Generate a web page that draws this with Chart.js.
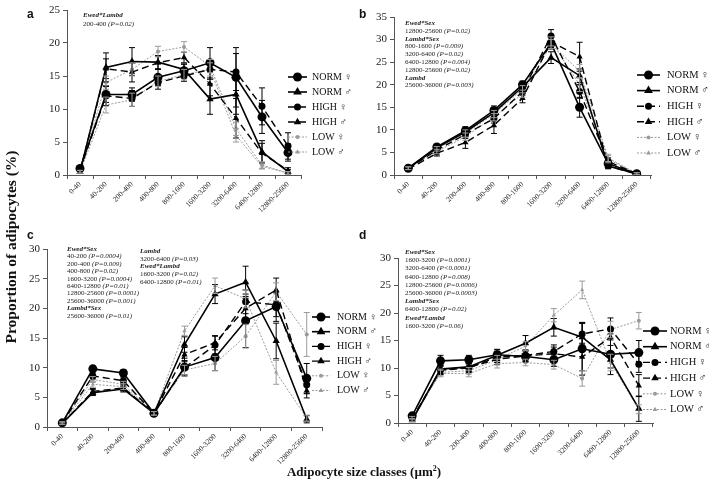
<!DOCTYPE html>
<html>
<head>
<meta charset="utf-8">
<script src="https://cdn.jsdelivr.net/npm/chart.js@4.4.0/dist/chart.umd.min.js"></script>
<style>
  body { margin: 0; background: #fff; width: 709px; height: 486px; overflow: hidden; position: relative; font-family: "Liberation Serif", serif; color: #111; }
  canvas { position: absolute; left: 0; top: 0; }
  .note { position: absolute; font-size: 7px; line-height: 7.8px; color: #222; white-space: nowrap; }
  .note b { font-style: italic; }
  .lbl { position: absolute; font-family: "Liberation Sans", Arial, sans-serif; font-weight: bold; font-size: 12px; }
  #ytitle { position: absolute; left: -99px; top: 237px; width: 220px; height: 20px; line-height: 20px; text-align: center; font-weight: bold; font-size: 15.5px; transform: rotate(-90deg); }
  #xtitle { position: absolute; left: 214px; top: 464px; width: 300px; text-align: center; font-weight: bold; font-size: 13px; }
</style>
</head>
<body>
<canvas id="pa" width="709" height="486"></canvas>
<canvas id="pb" width="709" height="486"></canvas>
<canvas id="pc" width="709" height="486"></canvas>
<canvas id="pd" width="709" height="486"></canvas>
<div class="lbl" style="left:27px;top:7px">a</div>
<div class="lbl" style="left:359px;top:7px">b</div>
<div class="lbl" style="left:27px;top:228px">c</div>
<div class="lbl" style="left:359px;top:228px">d</div>
<div id="ytitle">Proportion of adipocytes (%)</div>
<div id="xtitle">Adipocyte size classes (µm<sup style="font-size:8px">2</sup>)</div>
<script>
// size classes on the x axis
const sizeClasses = ['0-40', '40-200', '200-400', '400-800', '800-1600', '1600-3200', '3200-6400', '6400-12800', '12800-25600'];
const seriesNames = ['NORM ♀', 'NORM ♂', 'HIGH ♀', 'HIGH ♂', 'LOW ♀', 'LOW ♂'];

// panel a
const aNormF = [1.0, 12.2, 12.2, 14.8, 15.8, 17.0, 14.8, 8.8, 3.4];
const aNormM = [0.5, 16.3, 17.2, 17.1, 16.0, 11.5, 12.2, 3.5, 0.5];
const aHighF = [0.8, 12.0, 11.6, 14.0, 15.0, 16.0, 15.6, 10.4, 4.4];
const aHighM = [0.5, 16.1, 15.6, 17.0, 17.8, 13.8, 8.6, 3.3, 0.7];
const aLowF = [0.5, 14.0, 16.0, 18.7, 19.4, 16.5, 7.0, 1.5, 0.3];
const aLowM = [0.5, 10.6, 11.4, 14.2, 15.2, 16.0, 6.0, 1.3, 0.3];
const aNormFErr = [0.3, 1.2, 1.0, 1.2, 1.0, 2.3, 4.5, 2.5, 1.3];
const aNormMErr = [0.2, 2.2, 2.1, 1.0, 0.8, 2.3, 3.0, 1.7, 0.3];
const aHighFErr = [0.3, 1.5, 1.2, 1.0, 0.8, 1.5, 2.8, 2.8, 2.0];
const aHighMErr = [0.2, 1.5, 1.5, 1.0, 0.8, 1.8, 3.0, 1.5, 0.4];
const aLowFErr = [0.2, 1.0, 1.0, 0.8, 0.8, 1.0, 1.0, 0.5, 0.2];
const aLowMErr = [0.2, 1.2, 1.0, 0.8, 0.8, 1.0, 1.0, 0.4, 0.2];
const aNotes = ['Ewed*Lambd', '200-400 (P=0.02)'];

// panel b
const bNormF = [1.5, 6.2, 9.8, 14.3, 20.0, 29.2, 15.0, 2.5, 0.3];
const bNormM = [1.5, 6.0, 9.5, 13.8, 19.5, 26.0, 22.0, 2.0, 0.3];
const bHighF = [1.5, 5.5, 9.0, 12.5, 18.5, 30.8, 18.5, 3.0, 0.3];
const bHighM = [1.3, 4.8, 7.2, 11.0, 17.0, 29.5, 26.2, 2.0, 0.2];
const bLowF = [1.5, 5.8, 9.2, 13.5, 19.0, 29.6, 20.0, 3.5, 0.3];
const bLowM = [1.5, 5.2, 8.5, 12.8, 18.0, 29.0, 23.0, 3.8, 0.3];
const bNormFErr = [0.3, 0.6, 0.9, 1.0, 0.8, 1.3, 2.2, 0.8, 0.2];
const bNormMErr = [0.3, 0.6, 0.9, 1.0, 0.8, 1.3, 1.5, 0.6, 0.2];
const bHighFErr = [0.3, 0.6, 0.9, 1.0, 0.8, 1.4, 1.5, 0.8, 0.2];
const bHighMErr = [0.3, 0.6, 1.3, 1.8, 1.0, 1.3, 3.2, 0.6, 0.2];
const bLowFErr = [0.3, 0.5, 0.8, 0.8, 0.8, 1.0, 1.5, 0.8, 0.2];
const bLowMErr = [0.3, 0.5, 0.8, 0.8, 0.8, 1.0, 1.5, 0.8, 0.2];
const bNotes = ['Ewed*Sex', '12800-25600 (P=0.02)', 'Lambd*Sex', '800-1600 (P=0.009)', '3200-6400 (P=0.02)',
  '6400-12800 (P=0.004)', '12800-25600 (P=0.02)', 'Lambd', '25600-36000 (P=0.003)'];

// panel c
const cNormF = [0.7, 9.8, 9.1, 2.3, 10.1, 11.7, 17.9, 20.3, 8.2];
const cNormM = [0.6, 5.8, 6.4, 2.3, 13.9, 22.4, 24.4, 14.5, 1.3];
const cHighF = [0.7, 8.6, 7.8, 2.3, 10.0, 13.8, 21.1, 20.6, 7.1];
const cHighM = [0.6, 6.0, 6.6, 2.3, 12.2, 14.2, 20.0, 23.1, 6.1];
const cLowF = [0.7, 8.0, 7.2, 2.3, 9.6, 10.7, 15.3, 22.8, 15.6];
const cLowM = [0.6, 7.2, 6.8, 2.3, 16.2, 23.8, 21.6, 9.2, 1.5];
const cNormFErr = [0.2, 0.5, 0.5, 0.3, 1.5, 2.2, 4.5, 2.5, 2.5];
const cNormMErr = [0.2, 0.5, 0.5, 0.3, 1.3, 1.6, 2.7, 3.0, 0.6];
const cHighFErr = [0.2, 0.5, 0.5, 0.3, 1.2, 1.5, 2.0, 2.0, 1.5];
const cHighMErr = [0.2, 0.5, 0.5, 0.3, 1.2, 1.2, 2.0, 2.0, 1.2];
const cLowFErr = [0.2, 0.5, 0.5, 0.3, 0.8, 1.2, 2.0, 1.5, 3.7];
const cLowMErr = [0.2, 0.5, 0.5, 0.3, 0.8, 1.3, 1.5, 2.0, 0.5];
const cNotes = ['Ewed*Sex', '40-200 (P=0.0004)', '200-400 (P=0.009)', '400-800 (P=0.02)', '1600-3200 (P=0.0004)',
  '6400-12800 (P=0.01)', '12800-25600 (P=0.0001)', '25600-36000 (P=0.001)', 'Lambd*Sex', '25600-36000 (P=0.01)'];
const cNotes2 = ['Lambd', '3200-6400 (P=0.03)', 'Ewed*Lambd', '1600-3200 (P=0.02)', '6400-12800 (P=0.01)'];

// panel d
const dNormF = [1.3, 11.3, 11.5, 12.4, 12.1, 11.5, 13.5, 12.5, 12.8];
const dNormM = [0.5, 9.8, 10.2, 12.3, 14.5, 17.4, 15.6, 11.5, 2.6];
const dHighF = [0.8, 9.6, 10.0, 12.0, 12.3, 13.0, 16.2, 17.1, 10.7];
const dHighM = [0.6, 9.7, 10.1, 11.6, 12.2, 12.6, 12.0, 15.6, 6.8];
const dLowF = [1.0, 9.0, 9.0, 10.8, 11.0, 10.6, 8.1, 17.0, 18.6];
const dLowM = [0.5, 9.2, 9.5, 11.5, 14.0, 19.6, 24.2, 11.0, 2.5];
const dNormFErr = [0.3, 1.0, 0.8, 1.0, 1.0, 1.2, 4.8, 3.7, 2.2];
const dNormMErr = [0.2, 0.8, 0.8, 1.0, 1.4, 1.6, 2.5, 1.5, 2.3];
const dHighFErr = [0.2, 0.8, 0.8, 1.0, 1.0, 1.2, 2.0, 2.0, 1.5];
const dHighMErr = [0.2, 0.8, 0.8, 1.0, 1.0, 1.2, 2.5, 1.5, 2.0];
const dLowFErr = [0.2, 0.6, 0.6, 0.8, 0.6, 0.8, 1.4, 1.5, 1.5];
const dLowMErr = [0.2, 0.6, 0.6, 0.8, 0.8, 1.2, 1.6, 1.5, 0.8];
const dNotes = ['Ewed*Sex', '1600-3200 (P=0.0001)', '3200-6400 (P<0.0001)', '6400-12800 (P=0.008)', '12800-25600 (P=0.0006)',
  '25600-36000 (P=0.0003)', 'Lambd*Sex', '6400-12800 (P=0.02)', 'Ewed*Lambd', '1600-3200 (P=0.06)'];

// line look for each group
const looks = [
  { color: '#000', width: 1.6, dash: [], shape: 'circle', r: 4.5 },
  { color: '#000', width: 1.6, dash: [], shape: 'triangle', r: 4.2 },
  { color: '#000', width: 1.4, dash: [7, 4], shape: 'circle', r: 3.5 },
  { color: '#000', width: 1.4, dash: [7, 4], shape: 'triangle', r: 3.6 },
  { color: '#9a9a9a', width: 1, dash: [2, 1.5], shape: 'circle', r: 2 },
  { color: '#9a9a9a', width: 1, dash: [2, 1.5], shape: 'triangle', r: 2.3 },
];

function drawMark(ctx, shape, r, x, y, color) {
  ctx.fillStyle = color;
  ctx.beginPath();
  if (shape === 'triangle') {
    let a = 0;
    ctx.moveTo(x + Math.sin(a) * r * 1.2, y - Math.cos(a) * r * 1.2);
    a += Math.PI * 2 / 3;
    ctx.lineTo(x + Math.sin(a) * r * 1.2, y - Math.cos(a) * r * 1.2);
    a += Math.PI * 2 / 3;
    ctx.lineTo(x + Math.sin(a) * r * 1.2, y - Math.cos(a) * r * 1.2);
    ctx.closePath();
  } else {
    ctx.arc(x, y, r, 0, Math.PI * 2);
  }
  ctx.fill();
}

// error bars from each dataset's errs array
const errorBars = {
  id: 'errorBars',
  afterDatasetsDraw(chart) {
    const ctx = chart.ctx, ys = chart.scales.y;
    ctx.save();
    chart.data.datasets.forEach((ds, i) => {
      const meta = chart.getDatasetMeta(i);
      ctx.strokeStyle = ds.borderColor;
      ctx.lineWidth = 1;
      ds.errs.forEach((e, j) => {
        const x = meta.data[j].x;
        const y1 = ys.getPixelForValue(ds.data[j] + e);
        const y2 = ys.getPixelForValue(Math.max(0, ds.data[j] - e));
        ctx.beginPath();
        ctx.moveTo(x, y1); ctx.lineTo(x, y2);
        ctx.moveTo(x - 3, y1); ctx.lineTo(x + 3, y1);
        ctx.moveTo(x - 3, y2); ctx.lineTo(x + 3, y2);
        ctx.stroke();
      });
    });
    ctx.restore();
  }
};

// legend drawn as line + marker + name
const keyBox = {
  id: 'keyBox',
  afterDraw(chart, args, o) {
    const ctx = chart.ctx;
    ctx.save();
    chart.data.datasets.forEach((ds, i) => {
      const lk = looks[i];
      const y = o.y + i * o.dy;
      ctx.strokeStyle = lk.color;
      ctx.lineWidth = lk.width;
      ctx.setLineDash(lk.dash);
      ctx.beginPath();
      ctx.moveTo(o.x, y); ctx.lineTo(o.x + o.len, y);
      ctx.stroke();
      ctx.setLineDash([]);
      drawMark(ctx, lk.shape, lk.r, o.x + o.len / 2, y, lk.color);
      ctx.fillStyle = '#111';
      ctx.font = o.size + 'px "Liberation Serif"';
      ctx.textBaseline = 'middle';
      ctx.fillText(ds.label, o.x + o.len + o.gap, y);
    });
    ctx.restore();
  }
};

function makePanel(id, series, errs, yMax, area, key) {
  const datasets = series.map((vals, i) => ({
    label: seriesNames[i],
    data: vals,
    errs: errs[i],
    borderColor: looks[i].color,
    borderWidth: looks[i].width,
    borderDash: looks[i].dash,
    pointStyle: looks[i].shape,
    pointRadius: looks[i].r,
    pointBackgroundColor: looks[i].color,
    pointBorderColor: looks[i].color,
    pointBorderWidth: 0,
    fill: false,
    tension: 0,
  }));
  const yW = 30, xH = 50;
  new Chart(document.getElementById(id), {
    type: 'line',
    data: { labels: sizeClasses, datasets: datasets },
    options: {
      responsive: false,
      animation: false,
      layout: { padding: { left: area.l - yW, right: 709 - area.r, top: area.t, bottom: 486 - area.b - xH } },
      plugins: { legend: { display: false }, tooltip: { enabled: false }, keyBox: key },
      scales: {
        x: {
          offset: true,
          grid: { offset: true, drawOnChartArea: false, tickLength: 4, color: '#555' },
          border: { color: '#555' },
          ticks: { autoSkip: false, minRotation: 45, maxRotation: 45, padding: 1, color: '#222',
            font: { family: 'Liberation Serif', size: 7.5 } },
          afterFit: s => { s.height = xH; }
        },
        y: {
          min: 0, max: yMax,
          grid: { drawOnChartArea: false, tickLength: 4, color: '#555' },
          border: { color: '#555' },
          ticks: { stepSize: 5, padding: 3, color: '#222', font: { family: 'Liberation Serif', size: 11 } },
          afterFit: s => { s.width = yW; }
        }
      }
    },
    plugins: [errorBars, keyBox]
  });
}

function writeNotes(lines, x, y, lh) {
  const div = document.createElement('div');
  div.className = 'note';
  div.style.left = x + 'px';
  div.style.top = y + 'px';
  div.style.lineHeight = lh + 'px';
  div.innerHTML = lines.map(t => {
    const k = t.indexOf(' (');
    if (k < 0) return '<b>' + t.replace('<', '&lt;') + '</b>';
    return t.slice(0, k) + ' <i>' + t.slice(k + 1).replace('<', '&lt;') + '</i>';
  }).join('<br>');
  document.body.appendChild(div);
}

makePanel('pa', [aNormF, aNormM, aHighF, aHighM, aLowF, aLowM],
  [aNormFErr, aNormMErr, aHighFErr, aHighMErr, aLowFErr, aLowMErr], 25,
  { l: 67, r: 301, t: 10, b: 175 }, { x: 288, y: 77, dy: 15, len: 19, gap: 5, size: 10 });
makePanel('pb', [bNormF, bNormM, bHighF, bHighM, bLowF, bLowM],
  [bNormFErr, bNormMErr, bHighFErr, bHighMErr, bLowFErr, bLowMErr], 35,
  { l: 394, r: 651, t: 17, b: 175 }, { x: 637, y: 75, dy: 15.6, len: 23, gap: 7, size: 10.5 });
makePanel('pc', [cNormF, cNormM, cHighF, cHighM, cLowF, cLowM],
  [cNormFErr, cNormMErr, cHighFErr, cHighMErr, cLowFErr, cLowMErr], 30,
  { l: 47, r: 322, t: 249, b: 427 }, { x: 312, y: 317, dy: 14.7, len: 18, gap: 7, size: 10 });
makePanel('pd', [dNormF, dNormM, dHighF, dHighM, dLowF, dLowM],
  [dNormFErr, dNormMErr, dHighFErr, dHighMErr, dLowFErr, dLowMErr], 30,
  { l: 398, r: 653, t: 258, b: 423 }, { x: 643, y: 331, dy: 15.7, len: 24, gap: 3, size: 10.5 });

writeNotes(aNotes, 83, 11, 8.5);
writeNotes(bNotes, 405, 20, 7.8);
writeNotes(cNotes, 67, 246, 7.4);
writeNotes(cNotes2, 140, 248, 7.7);
writeNotes(dNotes, 405, 248, 8.2);
</script>
</body>
</html>
